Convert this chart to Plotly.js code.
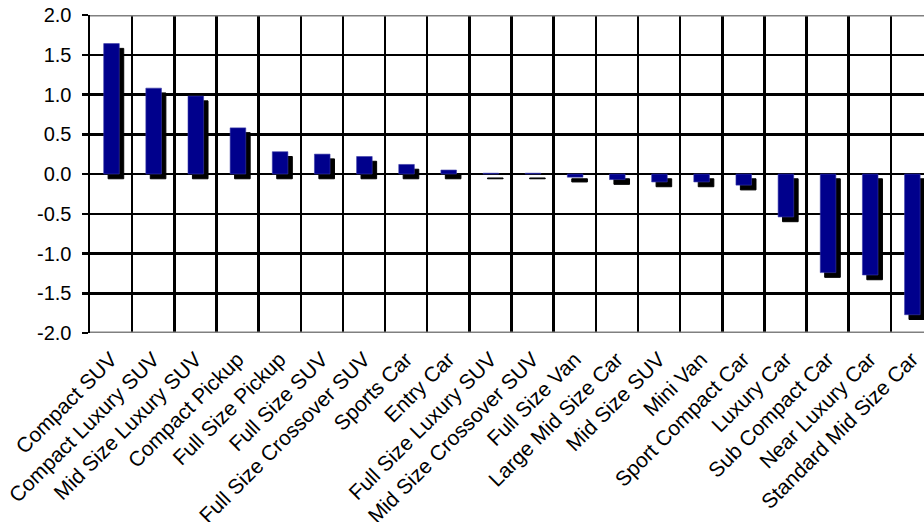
<!DOCTYPE html>
<html>
<head>
<meta charset="utf-8">
<script src="https://cdn.plot.ly/plotly-3.0.1.min.js"></script>
<style>
html, body { margin: 0; padding: 0; overflow: hidden; background: #fff; }
#chart { width: 924px; height: 522px; }
</style>
</head>
<body>
<div id="chart"></div>
<script>
const categories = [
  "Compact SUV", "Compact Luxury SUV", "Mid Size Luxury SUV", "Compact Pickup",
  "Full Size Pickup", "Full Size SUV", "Full Size Crossover SUV", "Sports Car",
  "Entry Car", "Full Size Luxury SUV", "Mid Size Crossover SUV", "Full Size Van",
  "Large Mid Size Car", "Mid Size SUV", "Mini Van", "Sport Compact Car",
  "Luxury Car", "Sub Compact Car", "Near Luxury Car", "Standard Mid Size Car"
];
const values = [
  1.64, 1.08, 0.98, 0.58,
  0.28, 0.25, 0.22, 0.12,
  0.05, 0.01, 0.01, -0.04,
  -0.07, -0.10, -0.10, -0.14,
  -0.54, -1.24, -1.27, -1.77
];
const yTickVals = [2, 1.5, 1, 0.5, 0, -0.5, -1, -1.5, -2];
const yTickText = ["2.0", "1.5", "1.0", "0.5", "0.0", "-0.5", "-1.0", "-1.5", "-2.0"];

const shadow = {
  type: "bar",
  x: categories,
  y: values,
  base: -0.06,
  width: 0.37,
  offset: -0.07,
  marker: { color: "#000000", line: { color: "#000000", width: 1 } },
  hoverinfo: "skip"
};
const main = {
  type: "bar",
  x: categories,
  y: values,
  width: 0.37,
  offset: -0.175,
  marker: { color: "#00008C", line: { color: "#3a3aa8", width: 0.6 } }
};

const layout = {
  width: 924,
  height: 522,
  margin: { l: 90, r: 0, t: 15, b: 189, pad: 0 },
  paper_bgcolor: "#ffffff",
  plot_bgcolor: "#ffffff",
  showlegend: false,
  barmode: "overlay",
  font: { family: "Liberation Sans, Arial, sans-serif", size: 20, color: "#000000" },
  xaxis: {
    type: "category",
    range: [-0.5, 19.286],
    tickson: "boundaries",
    showgrid: true,
    gridcolor: "#000000",
    gridwidth: 2.5,
    tickangle: -45,
    ticks: "",
    showline: false,
    zeroline: false,
    ticklabelstandoff: 9,
    tickfont: { size: 21 }
  },
  yaxis: {
    range: [-2, 2],
    tickmode: "array",
    tickvals: yTickVals,
    ticktext: yTickText,
    showgrid: true,
    gridcolor: "#000000",
    gridwidth: 2.5,
    zeroline: false,
    showline: true,
    linecolor: "#000000",
    linewidth: 2.5,
    ticks: "outside",
    ticklen: 6,
    tickwidth: 2.5,
    tickcolor: "#000000",
    ticklabelstandoff: 6,
    tickfont: { size: 20 }
  },
  shapes: [
    { type: "line", xref: "paper", yref: "y", x0: 0, x1: 1, y0: 2, y1: 2, line: { color: "#808080", width: 3 } },
    { type: "line", xref: "paper", yref: "y", x0: 0, x1: 1, y0: -2, y1: -2, line: { color: "#808080", width: 3 } }
  ]
};

Plotly.newPlot("chart", [shadow, main], layout, { displayModeBar: false, staticPlot: true });
</script>
</body>
</html>
